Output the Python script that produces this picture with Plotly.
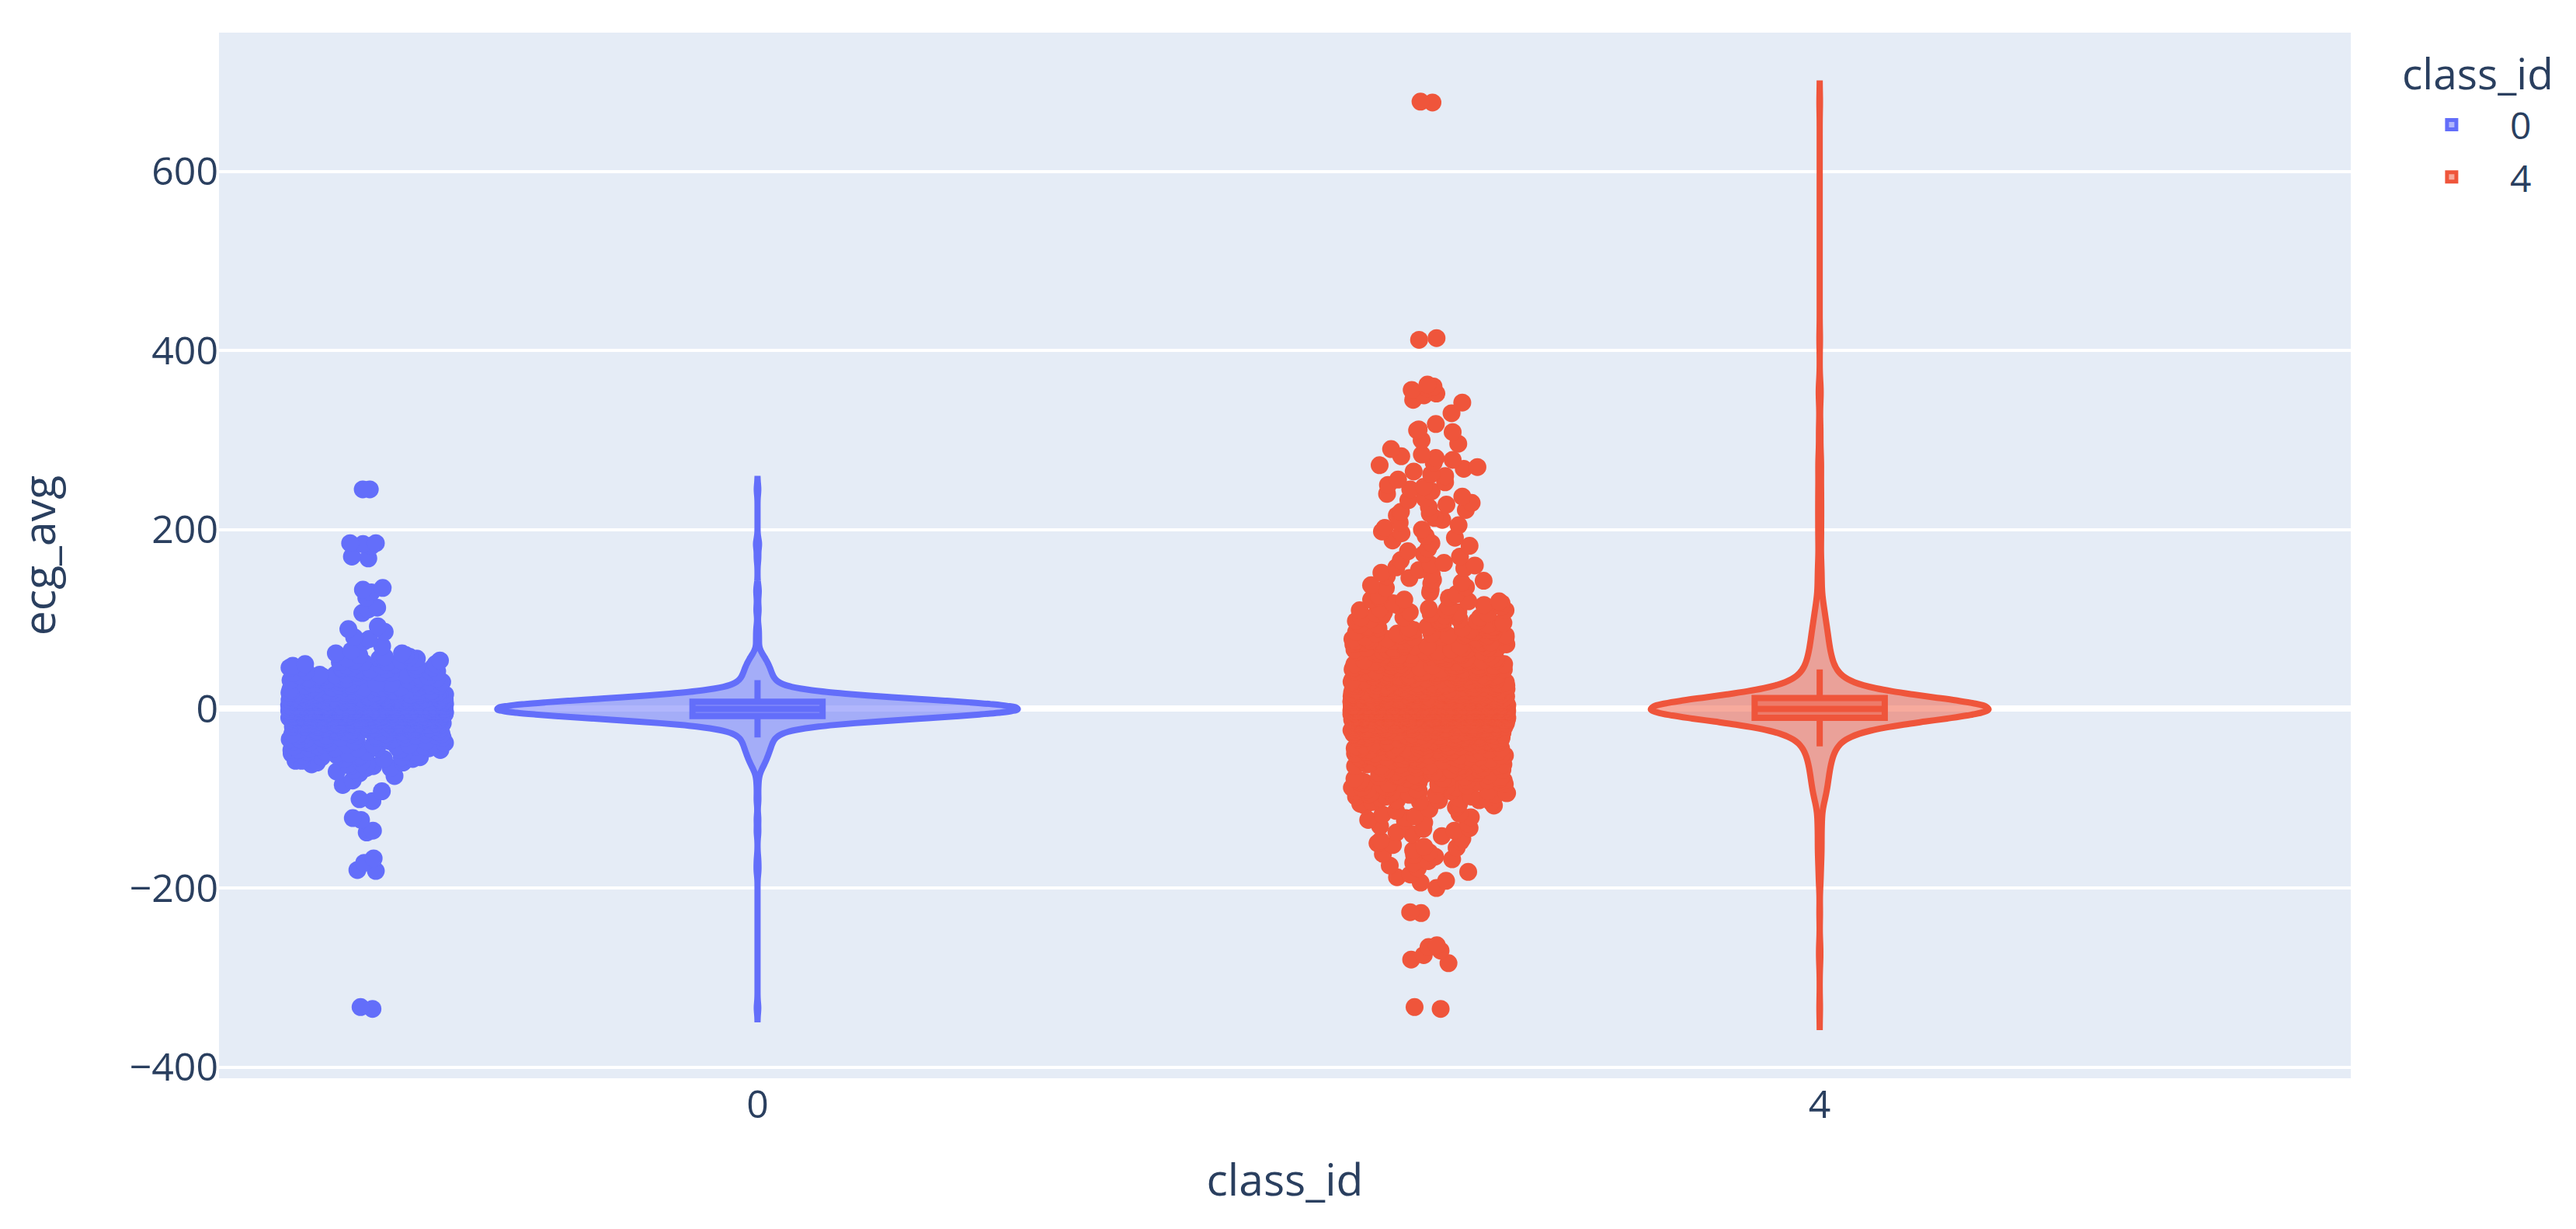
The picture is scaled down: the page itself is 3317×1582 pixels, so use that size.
import numpy as np
import pandas as pd
import plotly.express as px

class_ids = ["0", "4"]
legend_title = "class_id"

# ---- class_id 0 : dense core (value bins and how many records fall in each) ----
class0_bin_values = [-68, -66, -64, -62, -60, -58, -56, -54, -52, -50, -48, -46, -44, -42, -40,
                     -38, -36, -34, -32, -30, -28, -26, -24, -22, -20, -18, -16, -14, -12,
                     -10, -8, -6, -4, -2, 0, 2, 4, 6, 8, 10, 12, 14, 16, 18, 20, 22, 24, 26,
                     28, 30, 32, 34, 36, 38, 40, 42, 44, 46, 48, 50, 52, 54, 56, 58, 60, 62]
class0_bin_counts = [1, 2, 2, 3, 3, 3, 3, 4, 4, 4, 4, 5, 5, 5, 5,
                     5, 6, 6, 6, 7, 7, 8, 9, 11, 15, 21, 28, 38, 52,
                     64, 78, 91, 101, 109, 112, 109, 102, 92, 78, 64, 51, 39, 28, 20, 15, 11, 9, 8,
                     7, 7, 6, 6, 6, 5, 5, 5, 5, 5, 4, 4, 4, 3, 3, 3, 2, 2]
# ---- class_id 0 : individually visible points outside the core ----
class0_single_values = [65, 70, 75, 78, 80, 86, 89, 92, 107, 111, 113, 124, 130, 133, 135,
                        168, 170, 182, 184, 185, 185, 245, 245,
                        -70, -72, -75, -80, -85, -92, -101, -103, -122, -124, -136, -138,
                        -167, -172, -180, -181, -333, -335]

# ---- class_id 4 : dense core ----
class4_bin_values = [-114, -112, -110, -108, -106, -104, -102, -100, -98, -96, -94, -92, -90,
                     -88, -86, -84, -82, -80, -78, -76, -74, -72, -70, -68, -66, -64, -62,
                     -60, -58, -56, -54, -52, -50, -48, -46, -44, -42, -40, -38, -36, -34,
                     -32, -30, -28, -26, -24, -22, -20, -18, -16, -14, -12, -10, -8, -6, -4,
                     -2, 0, 2, 4, 6, 8, 10, 12, 14, 16, 18, 20, 22, 24, 26, 28, 30, 32, 34,
                     36, 38, 40, 42, 44, 46, 48, 50, 52, 54, 56, 58, 60, 62, 64, 66, 68, 70,
                     72, 74, 76, 78, 80, 82, 84, 86, 88, 90, 92, 94, 96, 98, 100, 102, 104,
                     106, 108, 110, 112, 114, 116, 118, 120, 122, 124, 126, 128, 130]
class4_bin_counts = [1, 1, 1, 2, 2, 3, 3, 3, 3, 4, 4, 4, 4,
                     4, 4, 4, 5, 5, 5, 5, 5, 5, 5, 5, 6, 6, 6,
                     6, 6, 7, 7, 7, 7, 8, 8, 8, 9, 9, 10, 11, 12,
                     13, 14, 15, 17, 19, 21, 24, 27, 33, 41, 53, 69, 86, 107, 124,
                     137, 141, 137, 124, 108, 87, 69, 53, 41, 33, 27, 23, 21, 19, 17, 15, 13, 13, 12,
                     11, 10, 9, 9, 8, 8, 8, 7, 7, 7, 7, 6, 6, 6, 6, 6, 5, 5,
                     5, 5, 5, 5, 5, 5, 4, 4, 4, 4, 4, 4, 4, 3, 3, 3, 3,
                     3, 3, 3, 2, 2, 2, 2, 2, 2, 2, 1, 1, 1]
class4_single_values = [133, 135, 136, 138, 140, 141, 143, 144, 146, 148, 150, 152, 155, 157,
                        158, 160, 161, 163, 166, 170, 173, 176, 179, 182, 185, 188, 191, 193,
                        196, 198, 200, 202, 205, 208, 211, 213, 216, 218, 220, 222, 225, 228,
                        230, 233, 235, 237, 240, 243, 245, 248, 250, 253, 256, 260, 262, 265,
                        268, 270, 272, 275, 278, 280, 282, 284, 290, 296, 300, 309, 311, 312,
                        318, 330, 342, 345, 350, 352, 356, 358, 360, 362, 412, 414, 677, 678,
                        -117, -118, -120, -121, -122, -124, -125, -127, -128, -131, -133, -134,
                        -136, -138, -140, -142, -145, -147, -148, -150, -152, -154, -155, -158,
                        -160, -162, -163, -165, -168, -170, -172, -175, -178, -182, -185, -188,
                        -192, -194, -200, -227, -228, -264, -266, -270, -275, -280, -284, -333,
                        -335]

y_ticks = [-400, -200, 0, 200, 400, 600]

assert len(class0_bin_values) == len(class0_bin_counts)
assert len(class4_bin_values) == len(class4_bin_counts)

ecg0 = list(np.repeat(class0_bin_values, class0_bin_counts)) + class0_single_values
ecg4 = list(np.repeat(class4_bin_values, class4_bin_counts)) + class4_single_values

df = pd.DataFrame({
    "class_id": [class_ids[0]] * len(ecg0) + [class_ids[1]] * len(ecg4),
    "ecg_avg": [float(v) for v in ecg0] + [float(v) for v in ecg4],
})

fig = px.violin(df, x="class_id", y="ecg_avg", color="class_id", box=True, points="all",
                category_orders={"class_id": class_ids})

fig.update_traces(marker=dict(size=23), line=dict(width=8),
                  box=dict(line=dict(width=8)), scalegroup="ecg")

fig.update_layout(
    width=3317, height=1582,
    margin=dict(l=282, r=290, t=42, b=194, autoexpand=False),
    font=dict(size=48),
    violinmode="overlay",
    legend=dict(title=dict(text=""), font=dict(size=48),
                x=1.02, y=0.94, xanchor="left", yanchor="top", tracegroupgap=2,
                itemwidth=140),
    annotations=[dict(text=legend_title, xref="paper", yref="paper", x=1.0233, y=0.962,
                      xanchor="left", yanchor="middle", showarrow=False,
                      font=dict(size=55))],
)
fig.update_xaxes(title=dict(text="class_id", font=dict(size=57), standoff=46),
                 showgrid=False, ticks="", range=[-0.507, 1.5])
fig.update_yaxes(title=dict(text="ecg_avg", font=dict(size=57), standoff=76),
                 gridwidth=4, zerolinewidth=8, ticks="", tickfont=dict(size=50),
                 tickvals=y_ticks, range=[-412.5, 755])
fig.update_xaxes(tickfont=dict(size=50))

fig.write_html("out.html", config={"displayModeBar": False},
               post_script="document.body.style.margin='0';document.body.style.overflow='hidden';")
